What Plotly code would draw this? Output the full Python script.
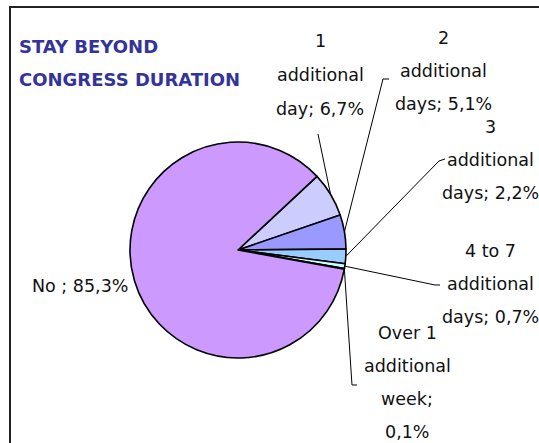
import math
import plotly.graph_objects as go

# ---- data ----
categories = ["1 additional day", "2 additional days", "3 additional days",
              "4 to 7 additional days", "Over 1 additional week", "No"]
values = [6.7, 5.1, 2.2, 0.7, 0.1, 85.3]
label_lines = [
    ["1", "additional", "day; 6,7%"],
    ["2", "additional", "days; 5,1%"],
    ["3", "additional", "days; 2,2%"],
    ["4 to 7", "additional", "days; 0,7%"],
    ["Over 1", "additional", "week;", "0,1%"],
    ["No ; 85,3%"],
]
colors = ["#CCCCFF", "#9999FF", "#99CCFF", "#CCFFFF", "#66CCFF", "#CC99FF"]
title_lines = ["STAY BEYOND", "CONGRESS DURATION"]

# ---- layout (pixels, in window coordinates) ----
W, H = 539, 443
CX, CY, R = 238, 250, 108
ROTATION = 47  # degrees clockwise from 12 o'clock where first slice starts
FONT = "DejaVu Sans"
FS = 17.5

def px(x):
    return x / W

def py(y):
    return 1 - y / H

# label text placement: (center x, first line y, line step)
label_pos = [
    (320, 41, 34),
    (443, 38, 33),
    (490, 127, 33),
    (490, 251, 33),
    (407, 333, 33),
    (80, 286, 34),
]
# leader line waypoints after the slice edge point (None = no leader)
leader_pts = [
    [(318, 134)],
    [(383, 79), (389, 79)],
    [(439, 161), (445, 159)],
    [(435, 285), (440, 285)],
    [(352, 385), (357, 385)],
    None,
]

fig = go.Figure(go.Pie(
    labels=categories, values=values, sort=False, direction="clockwise",
    rotation=ROTATION, textinfo="none", hoverinfo="label+percent",
    marker=dict(colors=colors, line=dict(color="black", width=1.6)),
    domain=dict(x=[px(CX - R), px(CX + R)], y=[py(CY + R), py(CY - R)]),
    showlegend=False,
))

annotations = []
shapes = []

# title
for i, t in enumerate(title_lines):
    annotations.append(dict(text="<b>" + t + "</b>", x=px(17), y=py(46 + 33 * i),
                            xref="paper", yref="paper", xanchor="left", yanchor="middle",
                            showarrow=False, font=dict(family=FONT, size=18, color="#333399")))

total = sum(values)
cum = 0.0
for i, v in enumerate(values):
    mid = cum + v / 2
    cum += v
    # angle measured clockwise from 12 o'clock
    ang = math.radians(ROTATION + 360 * mid / total)
    ex, ey = CX + R * math.sin(ang), CY - R * math.cos(ang)
    lx, ly, step = label_pos[i]
    for j, line in enumerate(label_lines[i]):
        annotations.append(dict(text=line, x=px(lx), y=py(ly + step * j),
                                xref="paper", yref="paper", xanchor="center", yanchor="middle",
                                showarrow=False, font=dict(family=FONT, size=FS, color="#111111")))
    if leader_pts[i]:
        pts = [(ex, ey)] + leader_pts[i]
        path = "M " + " L ".join(f"{px(a):.5f},{py(b):.5f}" for a, b in pts)
        shapes.append(dict(type="path", path=path, xref="paper", yref="paper",
                           line=dict(color="black", width=1)))

# frame (top and left edges)
shapes.append(dict(type="path", xref="paper", yref="paper",
                   path=f"M {px(10)},{py(443 + 2)} L {px(10)},{py(7)} L {px(539 + 2)},{py(7)}",
                   line=dict(color="#222222", width=2)))

fig.update_layout(width=W, height=H, margin=dict(l=0, r=0, t=0, b=0),
                  paper_bgcolor="white", plot_bgcolor="white",
                  annotations=annotations, shapes=shapes)

fig.write_html("out.html", config={"displayModeBar": False},
               post_script="document.body.style.margin='0';document.body.style.overflow='hidden';")
